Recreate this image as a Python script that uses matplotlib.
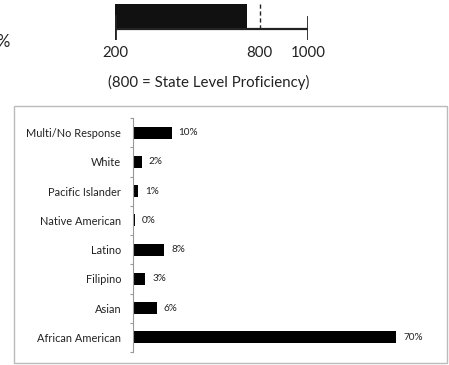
import matplotlib.pyplot as plt
from matplotlib.patches import Rectangle
import numpy as np

plt.rcParams['font.family'] = ['Lato', 'DejaVu Sans']

# top scale: score range and the school's score
scale_ticks = [200, 800, 1000]
scale_min, scale_max = 200, 1000
proficiency = 800
score = 747
scale_note = "(800 = State Level Proficiency)"

# bottom chart: enrollment by ethnicity
groups = ["African American", "Asian", "Filipino", "Latino",
          "Native American", "Pacific Islander", "White", "Multi/No Response"]
pcts = [70, 6, 3, 8, 0.3, 1, 2, 10]
pct_labels = ["70%", "6%", "3%", "8%", "0%", "1%", "2%", "10%"]

W, H = 449, 365
fig = plt.figure(figsize=(W / 100, H / 100), dpi=100)


def px(x0, y0, x1, y1):
    # pixel box (top-left origin) -> figure fraction rect
    return [x0 / W, 1 - y1 / H, (x1 - x0) / W, (y1 - y0) / H]


# ---- top scale bar ----
ax1 = fig.add_axes(px(115, 0, 308, 40))
ax1.set_xlim(scale_min, scale_max)
ax1.set_ylim(40, 0)
ax1.barh(16.5, score - scale_min, left=scale_min, height=25, color='#111111')
ax1.plot([scale_min, scale_max], [29, 29], color='#222222', lw=1.6, solid_capstyle='butt')
ax1.plot([scale_min, scale_min], [16, 39], color='#222222', lw=2)
ax1.plot([scale_max, scale_max], [17, 39], color='#222222', lw=2)
ax1.plot([proficiency, proficiency], [4, 29], color='#222222', lw=1, ls=(0, (3, 2)))
for s in ax1.spines.values():
    s.set_visible(False)
ax1.set_yticks([])
ax1.set_xticks(scale_ticks)
ax1.set_xticklabels([str(t) for t in scale_ticks], fontsize=10.8, color='#222222')
ax1.tick_params(axis='x', length=0, pad=4.5)

fig.text(209 / W, 1 - 82 / H, scale_note, ha='center', va='center', fontsize=10.8, color='#222222')
fig.text(-4 / W, 1 - 42 / H, "%", ha='left', va='center', fontsize=12, color='#222222')

# ---- bordered box ----
fig.add_artist(Rectangle((14 / W, 1 - 363 / H), (447 - 14) / W, (363 - 106) / H,
                         transform=fig.transFigure, fill=False, edgecolor='#bbbbbb', lw=1))

# ---- horizontal bar chart ----
ax2 = fig.add_axes(px(133, 118, 133 + 80 * 262 / 70, 352))
y = np.arange(len(groups))
ax2.barh(y, pcts, height=0.41, color='black', left=0.3)
ax2.set_xlim(0, 80)
ax2.set_ylim(-0.5, len(groups) - 0.5)
for s in ['top', 'right', 'bottom']:
    ax2.spines[s].set_visible(False)
ax2.spines['left'].set_color('#999999')
ax2.spines['left'].set_linewidth(0.8)
ax2.set_xticks([])
ax2.set_yticks(y)
ax2.set_yticklabels(groups, fontsize=7.9, color='#222222')
ax2.set_yticks(np.arange(len(groups) + 1) - 0.5, minor=True)
ax2.tick_params(axis='y', which='major', length=0, pad=8.5)
ax2.tick_params(axis='y', which='minor', length=2.5, color='#999999', width=0.8)

for yi, v, lab in zip(y, pcts, pct_labels):
    ax2.annotate(lab, (v + 0.3, yi), xytext=(5, 0), textcoords='offset points',
                 va='center', ha='left', fontsize=7.2, color='#222222')

fig.savefig('out.png', dpi=100)
